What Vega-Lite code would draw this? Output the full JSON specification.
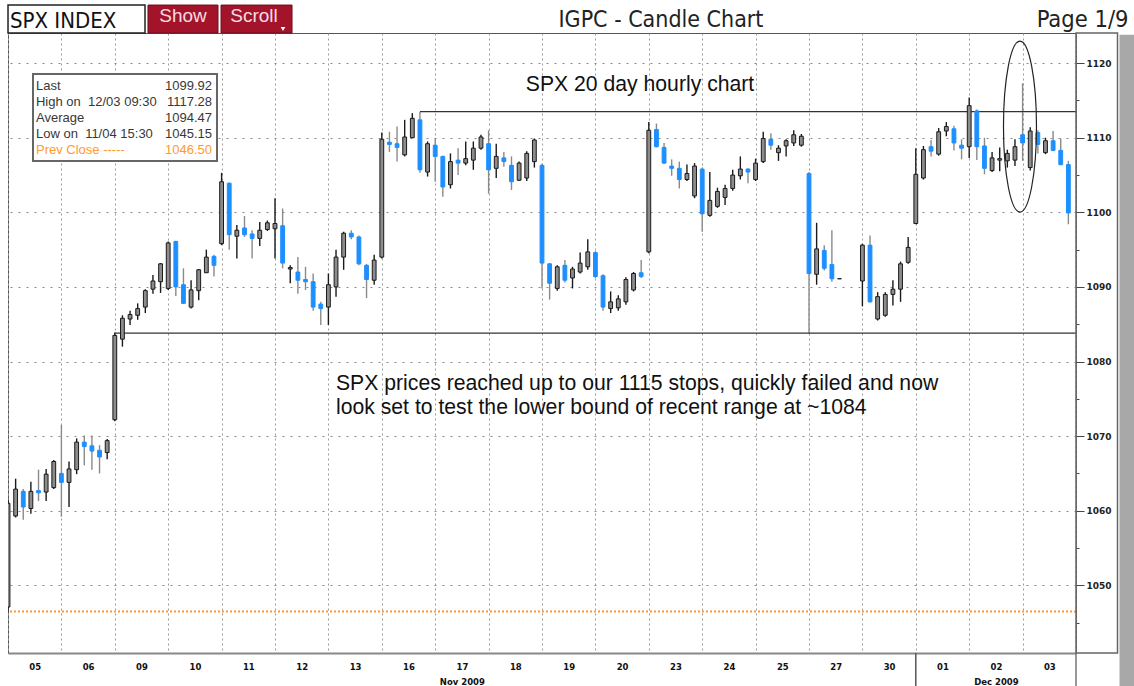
{
  "$schema": "https://vega.github.io/schema/vega-lite/v6.json",
  "width": 1068,
  "height": 620,
  "autosize": "none",
  "padding": {"left": 8, "top": 33, "right": 58, "bottom": 33},
  "background": "white",
  "config": {"view": {"stroke": "#555", "strokeWidth": 1}, "font": "Liberation Sans"},
  "datasets": {
    "candles": [
      {"d":"05","s":0,"o":1047.1,"h":1061.5,"l":1046.5,"c":1061.0},
      {"d":"05","s":1,"o":1059.3,"h":1064.3,"l":1059.1,"c":1062.9},
      {"d":"05","s":2,"o":1062.6,"h":1062.9,"l":1058.8,"c":1060.5},
      {"d":"05","s":3,"o":1060.3,"h":1063.9,"l":1059.6,"c":1062.6},
      {"d":"05","s":4,"o":1062.7,"h":1065.5,"l":1061.3,"c":1062.4},
      {"d":"05","s":5,"o":1062.5,"h":1065.6,"l":1061.3,"c":1064.9},
      {"d":"05","s":6,"o":1063.1,"h":1066.8,"l":1062.9,"c":1066.6},
      {"d":"06","s":0,"o":1065.0,"h":1071.5,"l":1059.2,"c":1063.8},
      {"d":"06","s":1,"o":1063.8,"h":1066.6,"l":1060.5,"c":1065.6},
      {"d":"06","s":2,"o":1065.5,"h":1069.7,"l":1064.9,"c":1069.2},
      {"d":"06","s":3,"o":1069.2,"h":1070.1,"l":1066.1,"c":1068.6},
      {"d":"06","s":4,"o":1068.7,"h":1070.1,"l":1065.5,"c":1068.0},
      {"d":"06","s":5,"o":1068.1,"h":1068.8,"l":1065.0,"c":1067.2},
      {"d":"06","s":6,"o":1067.8,"h":1069.6,"l":1066.9,"c":1069.4},
      {"d":"09","s":0,"o":1072.2,"h":1083.9,"l":1072.0,"c":1083.5},
      {"d":"09","s":1,"o":1083.0,"h":1086.2,"l":1082.0,"c":1085.8},
      {"d":"09","s":2,"o":1085.7,"h":1086.8,"l":1084.9,"c":1086.3},
      {"d":"09","s":3,"o":1086.2,"h":1087.8,"l":1085.6,"c":1087.1},
      {"d":"09","s":4,"o":1087.3,"h":1089.7,"l":1086.5,"c":1089.5},
      {"d":"09","s":5,"o":1089.7,"h":1091.6,"l":1089.1,"c":1090.8},
      {"d":"09","s":6,"o":1090.7,"h":1093.2,"l":1089.2,"c":1093.1},
      {"d":"10","s":0,"o":1089.8,"h":1096.1,"l":1089.6,"c":1095.9},
      {"d":"10","s":1,"o":1096.1,"h":1096.2,"l":1088.8,"c":1090.0},
      {"d":"10","s":2,"o":1090.3,"h":1092.5,"l":1087.7,"c":1087.8},
      {"d":"10","s":3,"o":1087.3,"h":1090.9,"l":1087.1,"c":1089.6},
      {"d":"10","s":4,"o":1089.5,"h":1092.4,"l":1088.2,"c":1092.3},
      {"d":"10","s":5,"o":1091.9,"h":1095.0,"l":1091.9,"c":1094.0},
      {"d":"10","s":6,"o":1094.1,"h":1094.3,"l":1091.4,"c":1092.9},
      {"d":"11","s":0,"o":1095.8,"h":1105.3,"l":1095.6,"c":1104.1},
      {"d":"11","s":1,"o":1103.9,"h":1104.0,"l":1095.0,"c":1097.0},
      {"d":"11","s":2,"o":1096.8,"h":1098.3,"l":1093.8,"c":1097.6},
      {"d":"11","s":3,"o":1097.9,"h":1099.5,"l":1096.7,"c":1097.0},
      {"d":"11","s":4,"o":1097.1,"h":1097.6,"l":1093.8,"c":1096.5},
      {"d":"11","s":5,"o":1096.5,"h":1098.7,"l":1095.5,"c":1097.6},
      {"d":"11","s":6,"o":1097.7,"h":1098.9,"l":1097.5,"c":1098.6},
      {"d":"12","s":0,"o":1097.8,"h":1101.9,"l":1093.8,"c":1098.5},
      {"d":"12","s":1,"o":1098.2,"h":1100.5,"l":1092.5,"c":1093.2},
      {"d":"12","s":2,"o":1092.4,"h":1092.9,"l":1090.5,"c":1092.6},
      {"d":"12","s":3,"o":1092.0,"h":1094.0,"l":1089.1,"c":1090.9},
      {"d":"12","s":4,"o":1091.0,"h":1092.7,"l":1089.6,"c":1090.7},
      {"d":"12","s":5,"o":1090.7,"h":1091.8,"l":1086.8,"c":1087.3},
      {"d":"12","s":6,"o":1087.7,"h":1088.0,"l":1084.9,"c":1087.1},
      {"d":"13","s":0,"o":1087.3,"h":1091.8,"l":1084.9,"c":1090.3},
      {"d":"13","s":1,"o":1090.0,"h":1095.0,"l":1088.7,"c":1094.0},
      {"d":"13","s":2,"o":1094.0,"h":1097.4,"l":1092.3,"c":1097.2},
      {"d":"13","s":3,"o":1097.2,"h":1097.6,"l":1096.4,"c":1096.7},
      {"d":"13","s":4,"o":1096.7,"h":1096.9,"l":1092.9,"c":1093.1},
      {"d":"13","s":5,"o":1092.9,"h":1093.1,"l":1088.5,"c":1091.0},
      {"d":"13","s":6,"o":1090.9,"h":1094.3,"l":1090.3,"c":1093.6},
      {"d":"16","s":0,"o":1094.0,"h":1110.7,"l":1093.8,"c":1109.8},
      {"d":"16","s":1,"o":1109.4,"h":1110.8,"l":1108.1,"c":1109.1},
      {"d":"16","s":2,"o":1109.2,"h":1111.5,"l":1106.8,"c":1108.7},
      {"d":"16","s":3,"o":1107.7,"h":1112.4,"l":1107.5,"c":1110.1},
      {"d":"16","s":4,"o":1110.0,"h":1113.3,"l":1110.0,"c":1112.6},
      {"d":"16","s":5,"o":1112.4,"h":1113.5,"l":1105.3,"c":1105.7},
      {"d":"16","s":6,"o":1105.4,"h":1109.5,"l":1104.8,"c":1109.2},
      {"d":"17","s":0,"o":1109.0,"h":1109.9,"l":1104.1,"c":1107.5},
      {"d":"17","s":1,"o":1107.5,"h":1107.6,"l":1102.1,"c":1103.4},
      {"d":"17","s":2,"o":1103.7,"h":1107.9,"l":1103.2,"c":1106.8},
      {"d":"17","s":3,"o":1107.0,"h":1108.6,"l":1105.0,"c":1106.6},
      {"d":"17","s":4,"o":1106.6,"h":1109.5,"l":1106.3,"c":1107.2},
      {"d":"17","s":5,"o":1107.0,"h":1109.5,"l":1105.7,"c":1108.6},
      {"d":"17","s":6,"o":1108.6,"h":1110.4,"l":1108.4,"c":1110.1},
      {"d":"18","s":0,"o":1109.2,"h":1111.0,"l":1102.5,"c":1105.7},
      {"d":"18","s":1,"o":1105.9,"h":1109.2,"l":1104.6,"c":1107.5},
      {"d":"18","s":2,"o":1107.3,"h":1108.1,"l":1106.1,"c":1106.8},
      {"d":"18","s":3,"o":1106.3,"h":1107.5,"l":1103.0,"c":1104.1},
      {"d":"18","s":4,"o":1104.3,"h":1106.8,"l":1104.2,"c":1106.6},
      {"d":"18","s":5,"o":1104.6,"h":1108.2,"l":1104.2,"c":1107.9},
      {"d":"18","s":6,"o":1106.8,"h":1109.9,"l":1106.0,"c":1109.7},
      {"d":"19","s":0,"o":1106.3,"h":1106.5,"l":1089.8,"c":1093.2},
      {"d":"19","s":1,"o":1093.1,"h":1093.2,"l":1088.3,"c":1090.5},
      {"d":"19","s":2,"o":1089.8,"h":1092.9,"l":1089.5,"c":1092.7},
      {"d":"19","s":3,"o":1092.9,"h":1093.6,"l":1090.6,"c":1090.9},
      {"d":"19","s":4,"o":1091.2,"h":1092.7,"l":1089.8,"c":1092.4},
      {"d":"19","s":5,"o":1092.0,"h":1094.6,"l":1091.8,"c":1093.2},
      {"d":"19","s":6,"o":1092.7,"h":1096.4,"l":1092.3,"c":1094.7},
      {"d":"20","s":0,"o":1094.6,"h":1094.8,"l":1091.2,"c":1091.4},
      {"d":"20","s":1,"o":1091.5,"h":1091.7,"l":1086.8,"c":1087.3},
      {"d":"20","s":2,"o":1087.1,"h":1089.4,"l":1086.5,"c":1088.0},
      {"d":"20","s":3,"o":1087.2,"h":1088.9,"l":1086.8,"c":1088.4},
      {"d":"20","s":4,"o":1088.0,"h":1091.3,"l":1087.6,"c":1091.0},
      {"d":"20","s":5,"o":1089.6,"h":1092.0,"l":1089.4,"c":1091.8},
      {"d":"20","s":6,"o":1091.9,"h":1093.6,"l":1091.2,"c":1091.4},
      {"d":"23","s":0,"o":1094.7,"h":1112.1,"l":1094.5,"c":1111.0},
      {"d":"23","s":1,"o":1111.1,"h":1111.9,"l":1108.7,"c":1108.8},
      {"d":"23","s":2,"o":1108.7,"h":1109.3,"l":1106.5,"c":1106.6},
      {"d":"23","s":3,"o":1106.2,"h":1107.1,"l":1104.9,"c":1105.9},
      {"d":"23","s":4,"o":1105.9,"h":1106.8,"l":1103.2,"c":1104.4},
      {"d":"23","s":5,"o":1104.4,"h":1106.4,"l":1104.2,"c":1105.2},
      {"d":"23","s":6,"o":1102.2,"h":1106.6,"l":1101.9,"c":1106.2},
      {"d":"24","s":0,"o":1105.8,"h":1106.0,"l":1097.4,"c":1099.8},
      {"d":"24","s":1,"o":1099.6,"h":1105.4,"l":1099.4,"c":1101.6},
      {"d":"24","s":2,"o":1100.8,"h":1103.3,"l":1100.6,"c":1102.8},
      {"d":"24","s":3,"o":1102.0,"h":1103.7,"l":1101.0,"c":1103.2},
      {"d":"24","s":4,"o":1103.2,"h":1105.7,"l":1102.9,"c":1105.0},
      {"d":"24","s":5,"o":1104.9,"h":1107.5,"l":1104.4,"c":1105.8},
      {"d":"24","s":6,"o":1105.8,"h":1105.9,"l":1103.9,"c":1105.4},
      {"d":"25","s":0,"o":1104.4,"h":1107.2,"l":1104.2,"c":1106.6},
      {"d":"25","s":1,"o":1106.8,"h":1110.8,"l":1106.6,"c":1109.9},
      {"d":"25","s":2,"o":1109.8,"h":1110.6,"l":1108.4,"c":1109.0},
      {"d":"25","s":3,"o":1108.0,"h":1109.0,"l":1106.9,"c":1108.6},
      {"d":"25","s":4,"o":1108.9,"h":1109.8,"l":1107.5,"c":1109.6},
      {"d":"25","s":5,"o":1109.3,"h":1111.0,"l":1108.9,"c":1110.4},
      {"d":"25","s":6,"o":1109.0,"h":1110.5,"l":1108.8,"c":1110.2},
      {"d":"27","s":0,"o":1105.2,"h":1105.4,"l":1083.8,"c":1091.8},
      {"d":"27","s":1,"o":1091.7,"h":1098.6,"l":1090.3,"c":1095.1},
      {"d":"27","s":2,"o":1094.9,"h":1095.6,"l":1092.2,"c":1092.5},
      {"d":"27","s":3,"o":1093.0,"h":1097.6,"l":1090.7,"c":1091.1},
      {"d":"27","s":4,"o":1091.1,"h":1091.1,"l":1091.1,"c":1091.1},
      {"d":"30","s":0,"o":1090.8,"h":1095.8,"l":1087.4,"c":1095.6},
      {"d":"30","s":1,"o":1095.6,"h":1096.9,"l":1087.9,"c":1088.0},
      {"d":"30","s":2,"o":1085.7,"h":1089.3,"l":1085.5,"c":1088.7},
      {"d":"30","s":3,"o":1086.2,"h":1089.3,"l":1086.0,"c":1089.0},
      {"d":"30","s":4,"o":1089.0,"h":1090.9,"l":1087.5,"c":1089.7},
      {"d":"30","s":5,"o":1089.7,"h":1093.4,"l":1088.0,"c":1093.1},
      {"d":"30","s":6,"o":1093.3,"h":1096.7,"l":1093.1,"c":1095.3},
      {"d":"01","s":0,"o":1098.5,"h":1108.6,"l":1098.4,"c":1105.1},
      {"d":"01","s":1,"o":1104.6,"h":1108.9,"l":1104.4,"c":1108.4},
      {"d":"01","s":2,"o":1108.8,"h":1109.7,"l":1107.5,"c":1108.2},
      {"d":"01","s":3,"o":1107.8,"h":1111.3,"l":1107.6,"c":1110.8},
      {"d":"01","s":4,"o":1110.9,"h":1112.1,"l":1110.2,"c":1111.5},
      {"d":"01","s":5,"o":1111.2,"h":1111.6,"l":1108.3,"c":1109.3},
      {"d":"01","s":6,"o":1109.0,"h":1109.8,"l":1107.1,"c":1108.6},
      {"d":"02","s":0,"o":1108.8,"h":1115.4,"l":1107.3,"c":1114.3},
      {"d":"02","s":1,"o":1113.6,"h":1113.8,"l":1107.0,"c":1108.8},
      {"d":"02","s":2,"o":1108.9,"h":1110.0,"l":1105.1,"c":1105.9},
      {"d":"02","s":3,"o":1105.6,"h":1108.1,"l":1105.4,"c":1107.3},
      {"d":"02","s":4,"o":1107.0,"h":1108.7,"l":1105.5,"c":1107.2},
      {"d":"02","s":5,"o":1106.9,"h":1108.4,"l":1106.0,"c":1107.9},
      {"d":"02","s":6,"o":1107.0,"h":1109.8,"l":1106.2,"c":1108.8},
      {"d":"03","s":0,"o":1110.4,"h":1117.3,"l":1106.9,"c":1109.3},
      {"d":"03","s":1,"o":1106.0,"h":1111.4,"l":1105.6,"c":1110.9},
      {"d":"03","s":2,"o":1110.7,"h":1111.0,"l":1107.9,"c":1109.1},
      {"d":"03","s":3,"o":1108.0,"h":1110.0,"l":1107.8,"c":1109.6},
      {"d":"03","s":4,"o":1109.6,"h":1110.9,"l":1108.2,"c":1108.3},
      {"d":"03","s":5,"o":1108.3,"h":1109.9,"l":1106.3,"c":1106.4},
      {"d":"03","s":6,"o":1106.4,"h":1106.9,"l":1098.4,"c":1099.92}
    ]
  },
  "layer": [
    {
      "data": {"name": "candles"},
      "mark": {"type": "rule", "strokeWidth": 1.4, "clip": true},
      "encoding": {
        "x": {
          "field": "d", "type": "ordinal",
          "scale": {"domain": ["05","06","09","10","11","12","13","16","17","18","19","20","23","24","25","27","30","01","02","03"], "paddingInner": 0, "paddingOuter": 0},
          "axis": {
            "title": null, "orient": "bottom", "tickBand": "extent", "grid": true, "gridDash": [2, 3], "gridColor": "#9a9a9a",
            "ticks": false, "domain": true, "domainColor": "#888", "domainWidth": 2, "labelAngle": 0,
            "labelFont": "DejaVu Sans", "labelFontWeight": "bold", "labelFontSize": 8.5, "labelColor": "#111",
            "labelPadding": 9, "labelLineHeight": 15,
            "labelExpr": "datum.value === '17' ? ['17', 'Nov 2009'] : datum.value === '02' ? ['02', 'Dec 2009'] : datum.value"
          }
        },
        "xOffset": {"field": "s", "type": "ordinal", "scale": {"domain": [0,1,2,3,4,5,6], "range": [-3.815, 49.585], "paddingInner": 0.5, "paddingOuter": 0.25}},
        "y": {
          "field": "l", "type": "quantitative",
          "scale": {"domain": [1040.93, 1124.04], "nice": false, "zero": false},
          "axis": {
            "title": null, "orient": "right", "format": "d",
            "values": [1045,1050,1055,1060,1065,1070,1075,1080,1085,1090,1095,1100,1105,1110,1115,1120],
            "labelExpr": "datum.value % 10 === 0 ? datum.label : ''",
            "grid": true, "gridDash": [2, 6], "gridColor": "#8a8a8a",
            "gridOpacity": {"condition": {"test": "datum.value % 10 !== 0", "value": 0}, "value": 1},
            "tickSize": {"condition": {"test": "datum.value % 10 === 0", "value": 8}, "value": 3},
            "tickColor": "#444", "domain": false,
            "labelFont": "DejaVu Sans", "labelFontWeight": "bold", "labelFontSize": 9, "labelColor": "#222", "labelPadding": 2
          }
        },
        "y2": {"field": "h"},
        "stroke": {"condition": {"test": "datum.c < datum.o", "value": "#8a8a8a"}, "value": "#1a1a1a"}
      }
    },
    {
      "data": {"values": [{}]},
      "mark": {"type": "rule", "strokeDash": [2, 2], "strokeWidth": 2, "stroke": "#ff9a2e"},
      "encoding": {"y": {"datum": 1046.5, "type": "quantitative", "title": null}}
    },
    {
      "data": {"values": [{}]},
      "mark": {"type": "rule", "strokeWidth": 1.3, "stroke": "#333"},
      "encoding": {
        "x": {"datum": "16", "type": "ordinal", "bandPosition": 0.715, "title": null},
        "x2": {"value": "width"},
        "y": {"datum": 1113.5, "type": "quantitative", "title": null}
      }
    },
    {
      "data": {"values": [{}]},
      "mark": {"type": "rule", "strokeWidth": 1.3, "stroke": "#333"},
      "encoding": {
        "x": {"datum": "09", "type": "ordinal", "bandPosition": 0, "title": null},
        "x2": {"value": "width"},
        "y": {"datum": 1083.8, "type": "quantitative", "title": null}
      }
    },
    {
      "data": {"name": "candles"},
      "mark": {"type": "bar", "strokeWidth": 1, "clip": true},
      "encoding": {
        "x": {"field": "d", "type": "ordinal"},
        "xOffset": {"field": "s", "type": "ordinal"},
        "y": {"field": "o", "type": "quantitative"},
        "y2": {"field": "c"},
        "fill": {"condition": {"test": "datum.c < datum.o", "value": "#1e8fff"}, "value": "#8c8c8c"},
        "stroke": {"condition": {"test": "datum.c < datum.o", "value": "#1e8fff"}, "value": "#1a1a1a"}
      }
    },
    {
      "data": {"values": [{}]},
      "mark": {"type": "point", "shape": "M-1,-0.4728 H1 V0.4728 H-1 Z", "size": 33856, "filled": true, "fill": "white", "stroke": "#666", "strokeWidth": 2, "opacity": 1},
      "encoding": {
        "x": {"datum": "09", "type": "ordinal", "bandPosition": 0.191, "title": null},
        "y": {"datum": 1112.71, "type": "quantitative", "title": null}
      }
    },
    {
      "data": {"values": [{"t": ["Last", "High on\u00a0 12/03 09:30", "Average", "Low on\u00a0 11/04 15:30"]}]},
      "mark": {"type": "text", "align": "left", "baseline": "alphabetic", "fontSize": 13, "lineHeight": 16, "color": "#383838"},
      "encoding": {
        "x": {"datum": "05", "type": "ordinal", "bandPosition": 0.524, "title": null},
        "y": {"datum": 1116.39, "type": "quantitative", "title": null},
        "text": {"field": "t"}
      }
    },
    {
      "data": {"values": [{"t": ["1099.92", "1117.28", "1094.47", "1045.15"]}]},
      "mark": {"type": "text", "align": "right", "baseline": "alphabetic", "fontSize": 13, "lineHeight": 16, "color": "#383838"},
      "encoding": {
        "x": {"datum": "10", "type": "ordinal", "bandPosition": 0.82, "title": null},
        "y": {"datum": 1116.39, "type": "quantitative", "title": null},
        "text": {"field": "t"}
      }
    },
    {
      "data": {"values": [{"t": "Prev Close -----"}]},
      "mark": {"type": "text", "align": "left", "baseline": "alphabetic", "fontSize": 13, "color": "#ff9a2e"},
      "encoding": {
        "x": {"datum": "05", "type": "ordinal", "bandPosition": 0.524, "title": null},
        "y": {"datum": 1107.81, "type": "quantitative", "title": null},
        "text": {"field": "t"}
      }
    },
    {
      "data": {"values": [{"t": "1046.50"}]},
      "mark": {"type": "text", "align": "right", "baseline": "alphabetic", "fontSize": 13, "color": "#ff9a2e"},
      "encoding": {
        "x": {"datum": "10", "type": "ordinal", "bandPosition": 0.82, "title": null},
        "y": {"datum": 1107.81, "type": "quantitative", "title": null},
        "text": {"field": "t"}
      }
    },
    {
      "data": {"values": [{"t": "SPX 20 day hourly chart"}]},
      "mark": {"type": "text", "align": "center", "baseline": "alphabetic", "fontSize": 21.2, "color": "#111"},
      "encoding": {
        "x": {"datum": "20", "type": "ordinal", "bandPosition": 0.835, "title": null},
        "y": {"datum": 1116.26, "type": "quantitative", "title": null},
        "text": {"field": "t"}
      }
    },
    {
      "data": {"values": [{"t": ["SPX prices reached up to our 1115 stops, quickly failed and now", "look set to test the lower bound of recent range at ~1084"]}]},
      "mark": {"type": "text", "align": "left", "baseline": "alphabetic", "fontSize": 21.2, "lineHeight": 24, "color": "#111"},
      "encoding": {
        "x": {"datum": "13", "type": "ordinal", "bandPosition": 0.142, "title": null},
        "y": {"datum": 1076.18, "type": "quantitative", "title": null},
        "text": {"field": "t"}
      }
    },
    {
      "data": {"values": [{}]},
      "mark": {"type": "point", "shape": "M0.193,0 C0.193,0.5523 0.1066,1 0,1 C-0.1066,1 -0.193,0.5523 -0.193,0 C-0.193,-0.5523 -0.1066,-1 0,-1 C0.1066,-1 0.193,-0.5523 0.193,0 Z", "size": 29241, "filled": false, "stroke": "#222", "strokeWidth": 1.2, "opacity": 1},
      "encoding": {
        "x": {"datum": "02", "type": "ordinal", "bandPosition": 0.951, "title": null},
        "y": {"datum": 1111.5, "type": "quantitative", "title": null}
      }
    },
    {
      "data": {"values": [{}]},
      "mark": {"type": "point", "shape": "M-0.06694,-1 H0.06694 V1 H-0.06694 Z", "size": 384400, "filled": false, "stroke": "#666", "strokeWidth": 1.5, "opacity": 1, "clip": false},
      "encoding": {
        "x": {"datum": "03", "type": "ordinal", "bandPosition": 1.3886, "title": null},
        "y": {"datum": 1082.48, "type": "quantitative", "title": null}
      }
    },
    {
      "data": {"values": [{}]},
      "mark": {"type": "rule", "strokeWidth": 15, "stroke": "#a8a8a8", "strokeCap": "butt"},
      "encoding": {
        "x": {"datum": "03", "type": "ordinal", "bandPosition": 1.955, "title": null},
        "y": {"datum": 1123.8, "type": "quantitative", "title": null},
        "y2": {"datum": 1036.5}
      }
    },
    {
      "data": {"values": [{}]},
      "mark": {"type": "rule", "strokeWidth": 1.5, "stroke": "#555"},
      "encoding": {
        "x": {"datum": "01", "type": "ordinal", "bandPosition": 0, "title": null},
        "y": {"datum": 1040.93, "type": "quantitative", "title": null},
        "y2": {"datum": 1036.5}
      }
    },
    {
      "data": {"values": [{}]},
      "mark": {"type": "rule", "strokeWidth": 1.5, "stroke": "#777"},
      "encoding": {
        "x": {"datum": "03", "type": "ordinal", "bandPosition": 1, "title": null},
        "y": {"datum": 1040.93, "type": "quantitative", "title": null},
        "y2": {"datum": 1036.5}
      }
    },
    {
      "data": {"values": [{}]},
      "mark": {"type": "point", "shape": "M-1,-0.2044 H1 V0.2044 H-1 Z", "size": 18769, "filled": true, "fill": "white", "stroke": "#222", "strokeWidth": 1.5, "opacity": 1},
      "encoding": {
        "x": {"datum": "06", "type": "ordinal", "bandPosition": 0.283, "title": null},
        "y": {"datum": 1125.91, "type": "quantitative", "title": null}
      }
    },
    {
      "data": {"values": [{"t": "SPX INDEX"}]},
      "mark": {"type": "text", "align": "left", "baseline": "alphabetic", "fontSize": 22, "font": "DejaVu Sans Condensed, Liberation Sans Narrow, DejaVu Sans", "color": "#111"},
      "encoding": {
        "x": {"datum": "05", "type": "ordinal", "bandPosition": 0.037, "title": null},
        "y": {"datum": 1124.7, "type": "quantitative", "title": null},
        "text": {"field": "t"}
      }
    },
    {
      "data": {"values": [{}]},
      "mark": {"type": "point", "shape": "M-1,-0.4 H1 V0.4 H-1 Z", "size": 4900, "filled": true, "fill": "#a3142b", "stroke": "#6d0c1c", "strokeWidth": 1, "opacity": 1},
      "encoding": {
        "x": {"datum": "10", "type": "ordinal", "bandPosition": 0.277, "title": null},
        "y": {"datum": 1125.91, "type": "quantitative", "title": null}
      }
    },
    {
      "data": {"values": [{}]},
      "mark": {"type": "point", "shape": "M-1,-0.394 H1 V0.394 H-1 Z", "size": 5041, "filled": true, "fill": "#a3142b", "stroke": "#6d0c1c", "strokeWidth": 1, "opacity": 1},
      "encoding": {
        "x": {"datum": "11", "type": "ordinal", "bandPosition": 0.654, "title": null},
        "y": {"datum": 1125.91, "type": "quantitative", "title": null}
      }
    },
    {
      "data": {"values": [{"t": "Show"}]},
      "mark": {"type": "text", "align": "center", "baseline": "alphabetic", "fontSize": 19, "color": "#f6dce2"},
      "encoding": {
        "x": {"datum": "10", "type": "ordinal", "bandPosition": 0.277, "title": null},
        "y": {"datum": 1125.57, "type": "quantitative", "title": null},
        "text": {"field": "t"}
      }
    },
    {
      "data": {"values": [{"t": "Scroll"}]},
      "mark": {"type": "text", "align": "center", "baseline": "alphabetic", "fontSize": 19, "color": "#f6dce2"},
      "encoding": {
        "x": {"datum": "11", "type": "ordinal", "bandPosition": 0.607, "title": null},
        "y": {"datum": 1125.57, "type": "quantitative", "title": null},
        "text": {"field": "t"}
      }
    },
    {
      "data": {"values": [{}]},
      "mark": {"type": "point", "shape": "triangle-down", "size": 22, "filled": true, "fill": "white", "opacity": 1},
      "encoding": {
        "x": {"datum": "12", "type": "ordinal", "bandPosition": 0.15, "title": null},
        "y": {"datum": 1124.57, "type": "quantitative", "title": null}
      }
    },
    {
      "data": {"values": [{"t": "IGPC - Candle Chart"}]},
      "mark": {"type": "text", "align": "center", "baseline": "alphabetic", "fontSize": 23, "font": "DejaVu Sans Condensed, Liberation Sans Narrow, DejaVu Sans", "color": "#222"},
      "encoding": {
        "x": {"datum": "23", "type": "ordinal", "bandPosition": 0.228, "title": null},
        "y": {"datum": 1124.84, "type": "quantitative", "title": null},
        "text": {"field": "t"}
      }
    },
    {
      "data": {"values": [{"t": "Page 1/9"}]},
      "mark": {"type": "text", "align": "right", "baseline": "alphabetic", "fontSize": 23.5, "font": "DejaVu Sans Condensed, Liberation Sans Narrow, DejaVu Sans", "color": "#222"},
      "encoding": {
        "x": {"datum": "03", "type": "ordinal", "bandPosition": 1.983, "title": null},
        "y": {"datum": 1124.84, "type": "quantitative", "title": null},
        "text": {"field": "t"}
      }
    }
  ]
}
